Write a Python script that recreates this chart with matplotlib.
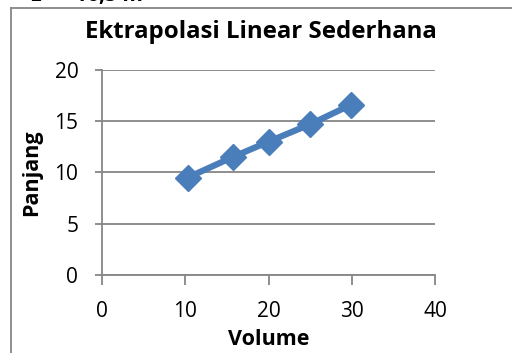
import matplotlib.pyplot as plt
from matplotlib.lines import Line2D

# data
volume = [10.3, 15.7, 20.0, 25.0, 29.9]
panjang = [9.5, 11.5, 13.0, 14.7, 16.6]
x_ticks = [0, 10, 20, 30, 40]
y_ticks = [0, 5, 10, 15, 20]

plt.rcParams['font.family'] = ['Open Sans', 'DejaVu Sans']
grey = '#868686'
blue = '#4A7EBB'

fig = plt.figure(figsize=(5.12, 3.53), dpi=100)
ax = fig.add_axes([0.199, 0.221, 0.651, 0.581])

ax.plot(volume, panjang, color=blue, linewidth=4.5, marker='D',
        markersize=13, markerfacecolor=blue, markeredgecolor=blue, zorder=3)

ax.set_xlim(0, 40)
ax.set_ylim(0, 20)
ax.set_xticks(x_ticks)
ax.set_yticks(y_ticks)
ax.grid(axis='y', color=grey, linewidth=1.3)
ax.set_axisbelow(True)

for s in ['top', 'right']:
    ax.spines[s].set_visible(False)
for s in ['left', 'bottom']:
    ax.spines[s].set_color(grey)
    ax.spines[s].set_linewidth(1.3)

ax.tick_params(axis='x', direction='out', length=7, width=1.3, color=grey,
               labelsize=15, pad=12)
ax.tick_params(axis='y', direction='out', length=5, width=1.3, color=grey,
               labelsize=15, pad=12)

ax.set_xlabel('Volume', fontsize=15.5, fontweight='bold', va='center')
ax.set_ylabel('Panjang', fontsize=15.5, fontweight='bold', va='center')
ax.xaxis.set_label_coords(0.5, -0.315)
ax.yaxis.set_label_coords(-0.21, 0.5)

# chart title, centred on the chart area rather than the plot
fig.text(261 / 512, 1 - 38 / 353, 'Ektrapolasi Linear Sederhana', fontsize=17.3,
         fontweight='bold', ha='center', va='baseline')

# outer chart frame (only left and top edges fall inside the picture)
fig.add_artist(Line2D([11 / 512, 11 / 512], [0, 1 - 8 / 353], color=grey, linewidth=1.3))
fig.add_artist(Line2D([11 / 512, 1], [1 - 8 / 353, 1 - 8 / 353], color=grey, linewidth=1.3))

# clipped text from the page above the chart
fig.text(30 / 512, 1 - 1 / 353, 'L  =  16,5 m', fontsize=15, fontweight='bold',
         va='baseline', ha='left')

fig.savefig('out.png', dpi=100)
